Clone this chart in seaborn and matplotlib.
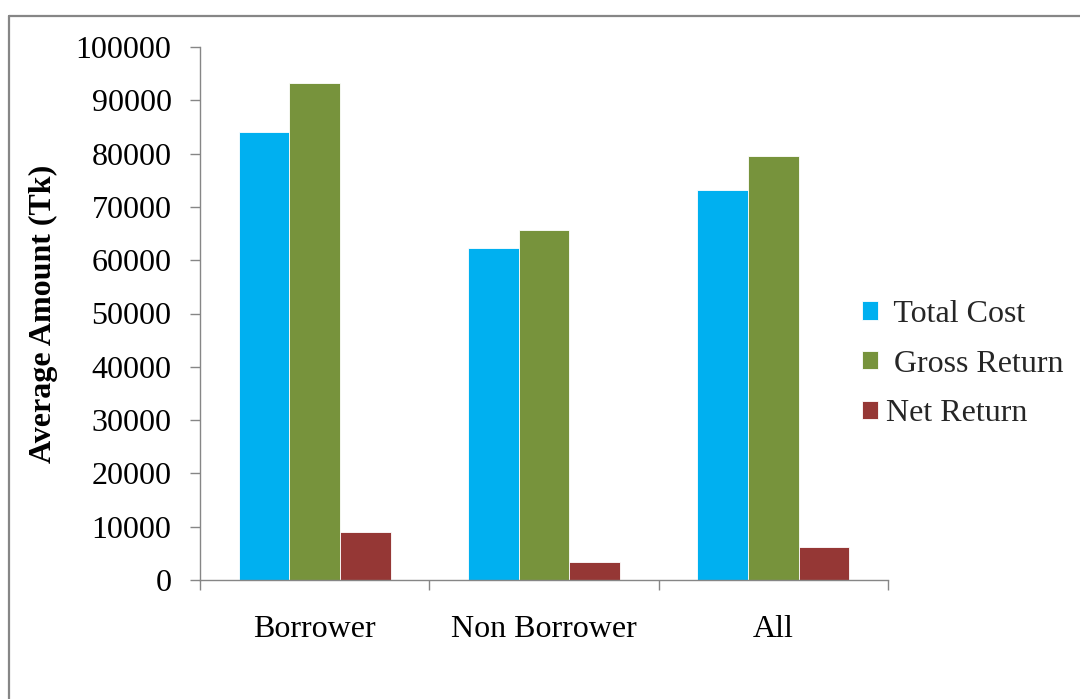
import matplotlib
matplotlib.use("Agg")
import matplotlib.pyplot as plt
from matplotlib.lines import Line2D
import seaborn as sns
import pandas as pd

# Average cost and returns per farm group (Tk)
groups = ["Borrower", "Non Borrower", "All"]
measures = [" Total Cost", " Gross Return", "Net Return"]
total_cost = [84100, 62300, 73100]
gross_return = [93300, 65600, 79500]
net_return = [9050, 3300, 6100]
colors = ["#00B0F0", "#77933C", "#953735"]
yticks = list(range(0, 100001, 10000))

rows = []
for series_name, values in zip(measures, [total_cost, gross_return, net_return]):
    for g, v in zip(groups, values):
        rows.append({"group": g, "measure": series_name, "amount": v})
df = pd.DataFrame(rows)

sns.set_theme(style="white")
plt.rcParams["font.family"] = ["Liberation Serif", "DejaVu Serif"]

W, H = 1080, 699
FS = 23
fig = plt.figure(figsize=(W / 100, H / 100), dpi=100)
fig.patch.set_facecolor("white")
ax = fig.add_axes([200 / W, 1 - 580 / H, 688 / W, 533 / H])

sns.barplot(
    data=df, x="group", y="amount", hue="measure",
    order=groups, hue_order=measures, palette=colors,
    width=0.664, gap=0, saturation=1, errorbar=None,
    edgecolor="white", linewidth=0.6, ax=ax,
)

grey = "#868686"
ax.set_xlim(-0.5, len(groups) - 0.5)
ax.set_ylim(0, 100000)
ax.set_yticks(yticks)
ax.set_yticklabels([str(t) for t in yticks])

# category boundaries carry tick marks, names sit between them
ax.set_xticks([i - 0.5 for i in range(len(groups) + 1)])
ax.set_xticklabels([])
ax.set_xticks(range(len(groups)), minor=True)
ax.set_xticklabels(groups, minor=True)

ax.tick_params(axis="x", which="major", direction="out", length=7.5, width=1.0,
               color=grey, bottom=True)
ax.tick_params(axis="x", which="minor", length=0, pad=25, labelsize=FS,
               labelcolor="black", bottom=True)
ax.tick_params(axis="y", direction="out", length=7.5, width=1.0, color=grey,
               pad=13, labelsize=FS, labelcolor="black", left=True)

for side in ["top", "right"]:
    ax.spines[side].set_visible(False)
for side in ["left", "bottom"]:
    ax.spines[side].set_color(grey)
    ax.spines[side].set_linewidth(1.0)

ax.set_xlabel("")
ax.set_ylabel("Average Amount (Tk)", fontsize=FS, fontweight="bold",
              color="black", labelpad=13)

sns.move_legend(
    ax, loc="center left", bbox_to_anchor=(862 / W, 1 - 364 / H),
    bbox_transform=fig.transFigure, frameon=False, title=None,
    fontsize=FS, handlelength=0.5, handleheight=0.5, handletextpad=0.25,
    labelspacing=0.65, borderpad=0, borderaxespad=0,
)

# outer frame of the figure
fig.add_artist(Line2D([9 / W, 9 / W], [0, 1 - 16 / H], transform=fig.transFigure,
                      color=grey, lw=1.6))
fig.add_artist(Line2D([9 / W, 1], [1 - 16 / H, 1 - 16 / H], transform=fig.transFigure,
                      color=grey, lw=1.6))

fig.savefig("out.png", dpi=100, facecolor="white")
